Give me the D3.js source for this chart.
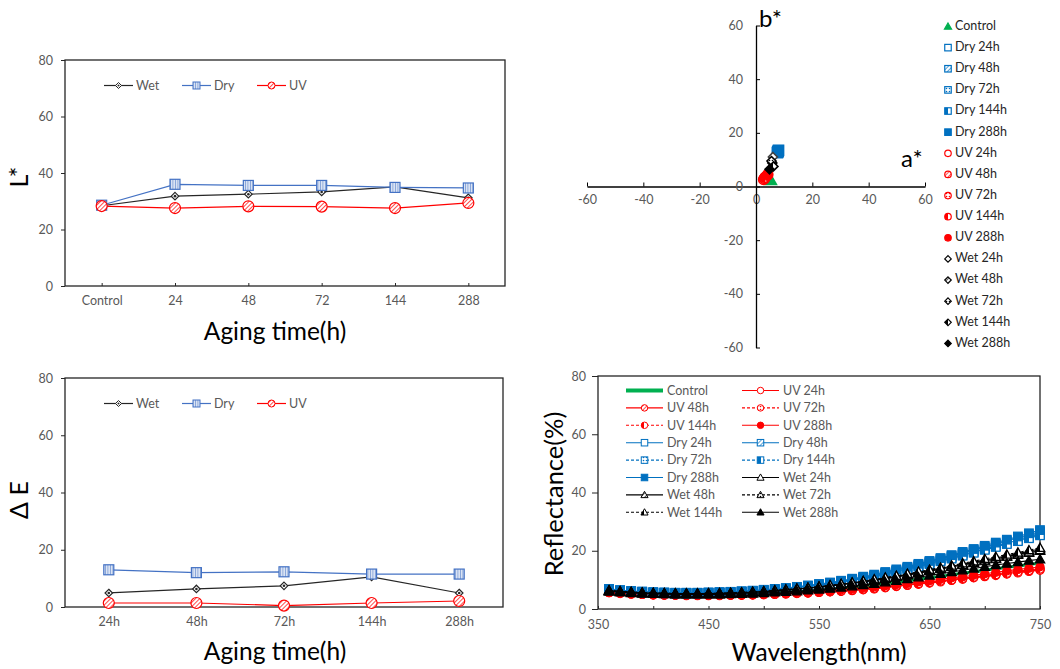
<!DOCTYPE html>
<html>
<head>
<meta charset="utf-8">
<script src="https://cdn.jsdelivr.net/npm/d3@7"></script>
<style>
body { margin: 0; background: #fff; }
svg text { font-family: Lato, "Liberation Sans", sans-serif; }
</style>
</head>
<body>
<div id="chart"></div>
<script>
// ---- L* vs aging time
const agingCats = ["Control", "24", "48", "72", "144", "288"];
const lWet = [28.4, 31.8, 32.5, 33.3, 35.1, 31.2];
const lDry = [28.6, 36.0, 35.6, 35.6, 34.9, 34.7];
const lUV = [28.3, 27.6, 28.2, 28.1, 27.6, 29.4];

// ---- delta E vs aging time
const deCats = ["24h", "48h", "72h", "144h", "288h"];
const deWet = [4.9, 6.3, 7.4, 10.5, 4.9];
const deDry = [13.0, 12.0, 12.3, 11.5, 11.5];
const deUV = [1.4, 1.4, 0.5, 1.4, 2.1];

// ---- a*/b* scatter
const labSamples = ["Control", "Dry 24h", "Dry 48h", "Dry 72h", "Dry 144h", "Dry 288h",
  "UV 24h", "UV 48h", "UV 72h", "UV 144h", "UV 288h",
  "Wet 24h", "Wet 48h", "Wet 72h", "Wet 144h", "Wet 288h"];
const labA = [5.3, 7.6, 7.9, 7.7, 8.0, 7.8, 2.7, 4.2, 3.0, 3.2, 4.0, 6.0, 5.8, 5.5, 6.2, 4.8];
const labB = [2.3, 12.6, 13.2, 12.9, 13.5, 13.0, 2.6, 4.5, 3.0, 3.4, 4.2, 11.0, 8.8, 9.5, 7.5, 6.4];
const abTicks = [-60, -40, -20, 0, 20, 40, 60];

// ---- reflectance spectra
const wavelengths = [360, 370, 380, 390, 400, 410, 420, 430, 440, 450, 460, 470, 480, 490, 500, 510, 520, 530, 540, 550,
  560, 570, 580, 590, 600, 610, 620, 630, 640, 650, 660, 670, 680, 690, 700, 710, 720, 730, 740, 750];
const reflControl = [5.9,5.6,5.4,5.2,5.1,5.0,4.9,4.9,4.9,4.9,4.9,5.0,5.1,5.2,5.3,5.5,5.7,5.9,6.1,6.4,6.7,7.0,7.4,7.8,8.2,8.7,9.2,9.7,10.2,10.7,11.2,11.8,12.3,12.8,13.3,13.8,14.3,14.8,15.3,15.8];
const reflUV24 = [5.6,5.4,5.2,5.0,4.9,4.8,4.7,4.7,4.7,4.7,4.7,4.7,4.8,4.9,5.0,5.1,5.2,5.4,5.5,5.7,5.9,6.1,6.4,6.7,7.0,7.4,7.8,8.2,8.6,9.0,9.5,9.9,10.4,10.8,11.3,11.7,12.1,12.6,13.0,13.5];
const reflUV48 = [5.7,5.5,5.3,5.1,5.0,4.9,4.8,4.8,4.8,4.8,4.8,4.8,4.9,5.0,5.1,5.2,5.3,5.5,5.7,5.9,6.1,6.3,6.6,6.9,7.2,7.6,8.0,8.4,8.8,9.3,9.7,10.2,10.6,11.1,11.6,12.0,12.5,13.0,13.4,13.9];
const reflUV72 = [5.6,5.3,5.1,5.0,4.8,4.7,4.7,4.6,4.6,4.6,4.6,4.7,4.7,4.8,4.9,5.0,5.2,5.3,5.5,5.7,5.9,6.1,6.3,6.6,6.9,7.3,7.7,8.1,8.5,8.9,9.3,9.8,10.2,10.7,11.1,11.5,12.0,12.4,12.9,13.3];
const reflUV144 = [5.7,5.4,5.2,5.1,4.9,4.8,4.8,4.7,4.7,4.7,4.7,4.8,4.8,4.9,5.0,5.1,5.3,5.4,5.6,5.8,6.0,6.2,6.5,6.8,7.1,7.5,7.9,8.3,8.7,9.1,9.6,10.0,10.5,10.9,11.4,11.8,12.3,12.7,13.2,13.7];
const reflUV288 = [5.8,5.6,5.4,5.2,5.1,5.0,4.9,4.9,4.9,4.9,4.9,4.9,5.0,5.1,5.2,5.3,5.5,5.7,5.9,6.1,6.3,6.6,6.9,7.2,7.6,8.0,8.4,8.8,9.3,9.7,10.2,10.7,11.1,11.6,12.1,12.6,13.1,13.6,14.0,14.5];
const reflDry24 = [6.8,6.4,6.1,5.9,5.7,5.6,5.5,5.5,5.5,5.6,5.7,5.8,6.0,6.2,6.5,6.8,7.1,7.5,7.9,8.4,8.9,9.5,10.1,10.8,11.5,12.4,13.3,14.2,15.2,16.2,17.2,18.2,19.2,20.3,21.3,22.4,23.4,24.5,25.5,26.6];
const reflDry48 = [6.6,6.2,5.9,5.7,5.6,5.5,5.4,5.4,5.4,5.5,5.6,5.7,5.9,6.1,6.3,6.6,6.9,7.3,7.7,8.2,8.7,9.2,9.8,10.5,11.2,12.0,12.9,13.8,14.7,15.7,16.6,17.6,18.6,19.6,20.6,21.6,22.6,23.6,24.6,25.7];
const reflDry72 = [6.7,6.3,6.0,5.8,5.6,5.5,5.5,5.4,5.5,5.5,5.6,5.8,5.9,6.2,6.4,6.7,7.0,7.4,7.8,8.3,8.8,9.4,10.0,10.7,11.4,12.2,13.1,14.0,15.0,16.0,17.0,18.0,19.0,20.0,21.0,22.1,23.1,24.2,25.2,26.2];
const reflDry144 = [6.5,6.2,5.9,5.7,5.5,5.4,5.4,5.3,5.3,5.4,5.5,5.6,5.8,6.0,6.3,6.5,6.8,7.2,7.6,8.0,8.5,9.1,9.7,10.3,11.0,11.8,12.7,13.6,14.5,15.4,16.4,17.3,18.3,19.3,20.3,21.3,22.3,23.3,24.3,25.3];
const reflDry288 = [6.9,6.5,6.2,6.0,5.8,5.7,5.6,5.6,5.6,5.7,5.8,5.9,6.1,6.3,6.6,6.9,7.2,7.6,8.1,8.6,9.1,9.7,10.4,11.1,11.8,12.7,13.6,14.5,15.5,16.5,17.5,18.5,19.6,20.6,21.7,22.8,23.8,24.9,26.0,27.1];
const reflWet24 = [6.3,6.0,5.8,5.6,5.5,5.4,5.3,5.3,5.3,5.3,5.4,5.5,5.6,5.8,6.0,6.3,6.6,6.9,7.2,7.6,8.0,8.5,9.0,9.5,10.0,10.6,11.2,11.9,12.6,13.3,14.0,14.7,15.4,16.1,16.8,17.5,18.3,19.0,19.8,20.6];
const reflWet48 = [6.2,5.9,5.7,5.5,5.4,5.3,5.2,5.2,5.2,5.2,5.3,5.4,5.5,5.7,5.9,6.2,6.4,6.7,7.1,7.4,7.8,8.3,8.8,9.3,9.8,10.4,11.0,11.6,12.3,13.0,13.7,14.4,15.1,15.8,16.5,17.2,17.9,18.6,19.3,20.0];
const reflWet72 = [6.3,6.0,5.7,5.6,5.4,5.3,5.3,5.2,5.2,5.3,5.3,5.4,5.6,5.7,5.9,6.2,6.5,6.8,7.1,7.5,7.9,8.4,8.9,9.4,9.9,10.5,11.1,11.7,12.4,13.1,13.8,14.5,15.2,15.9,16.6,17.3,18.0,18.8,19.5,20.2];
const reflWet144 = [6.4,6.1,5.8,5.6,5.5,5.4,5.3,5.3,5.3,5.4,5.4,5.5,5.7,5.9,6.1,6.4,6.7,7.0,7.3,7.7,8.2,8.6,9.1,9.6,10.2,10.8,11.4,12.1,12.8,13.5,14.2,14.9,15.7,16.4,17.2,17.9,18.7,19.4,20.2,21.0];
const reflWet288 = [6.0,5.7,5.5,5.3,5.2,5.1,5.0,5.0,5.0,5.0,5.0,5.1,5.2,5.3,5.5,5.7,5.9,6.1,6.4,6.7,7.0,7.4,7.8,8.2,8.7,9.2,9.7,10.3,10.9,11.5,12.1,12.7,13.3,13.9,14.5,15.1,15.6,16.1,16.6,17.1];

const reflSeries = [
  ["Control", reflControl], ["UV 24h", reflUV24], ["UV 48h", reflUV48], ["UV 72h", reflUV72],
  ["UV 144h", reflUV144], ["UV 288h", reflUV288], ["Dry 24h", reflDry24], ["Dry 48h", reflDry48],
  ["Dry 72h", reflDry72], ["Dry 144h", reflDry144], ["Dry 288h", reflDry288], ["Wet 24h", reflWet24],
  ["Wet 48h", reflWet48], ["Wet 72h", reflWet72], ["Wet 144h", reflWet144], ["Wet 288h", reflWet288]
];

const W = 1060, H = 669;
const tickGrey = "#595959";

const svg = d3.select("#chart").append("svg")
  .attr("width", W).attr("height", H);
const defs = svg.append("defs");

// fill patterns for the markers
function stripes(id, color, bg, angle, gap, w) {
  const p = defs.append("pattern").attr("id", id)
    .attr("patternUnits", "userSpaceOnUse")
    .attr("width", gap).attr("height", gap)
    .attr("patternTransform", `rotate(${angle})`);
  p.append("rect").attr("width", gap).attr("height", gap).attr("fill", bg);
  p.append("line").attr("x1", 0).attr("y1", 0).attr("x2", 0).attr("y2", gap)
    .attr("stroke", color).attr("stroke-width", w);
}
function dots(id, color, bg) {
  const p = defs.append("pattern").attr("id", id)
    .attr("patternUnits", "userSpaceOnUse").attr("width", 3).attr("height", 3);
  p.append("rect").attr("width", 3).attr("height", 3).attr("fill", bg);
  p.append("circle").attr("cx", 1.5).attr("cy", 1.5).attr("r", 0.8).attr("fill", color);
}
function half(id, color) {
  const g = defs.append("linearGradient").attr("id", id);
  g.append("stop").attr("offset", "50%").attr("stop-color", color);
  g.append("stop").attr("offset", "50%").attr("stop-color", "#fff");
}
stripes("redDiag", "#FF0000", "#fff", 45, 3, 1.4);
stripes("blueVert", "#4472C4", "#DAE3F3", 0, 2.5, 1);
const groupColor = {Control: "#00B050", UV: "#FF0000", Dry: "#0070C0", Wet: "#000000"};
Object.entries(groupColor).forEach(([k, c]) => {
  stripes("diag-" + k, c, "#fff", 45, 3, 1.3);
  dots("dots-" + k, c, "#fff");
  half("half-" + k, c);
});

function seriesStyle(name) {
  const parts = name.split(" ");
  const group = parts[0], t = parts[1];
  const color = groupColor[group];
  const fills = {
    "24h": "#fff",
    "48h": `url(#diag-${group})`,
    "72h": `url(#dots-${group})`,
    "144h": `url(#half-${group})`,
    "288h": color
  };
  return {
    group: group,
    color: color,
    fill: t ? fills[t] : color,
    dashed: t === "72h" || t === "144h"
  };
}

function marker(g, shape, x, y, s, stroke, fill, sw) {
  let el;
  if (shape === "circle") {
    el = g.append("circle").attr("cx", x).attr("cy", y).attr("r", s / 2);
  } else if (shape === "square") {
    el = g.append("rect").attr("x", x - s / 2).attr("y", y - s / 2).attr("width", s).attr("height", s);
  } else if (shape === "diamond") {
    el = g.append("path").attr("d", `M${x},${y - s / 2}L${x + s / 2},${y}L${x},${y + s / 2}L${x - s / 2},${y}Z`);
  } else {
    el = g.append("path").attr("d", `M${x},${y - s * 0.55}L${x + s * 0.55},${y + s * 0.42}L${x - s * 0.55},${y + s * 0.42}Z`);
  }
  el.attr("fill", fill).attr("stroke", stroke).attr("stroke-width", sw || 1);
  return el;
}

function styleAxis(g, size) {
  g.select(".domain").remove();
  g.selectAll(".tick line").attr("stroke", "#262626").attr("stroke-width", 1);
  g.selectAll(".tick text").attr("fill", tickGrey).style("font-size", size + "px");
}

function frame(box) {
  svg.append("rect")
    .attr("x", box.left).attr("y", box.top)
    .attr("width", box.right - box.left).attr("height", box.bottom - box.top)
    .attr("fill", "none").attr("stroke", "#262626").attr("stroke-width", 1.3);
}

// ---------- the two aging-time line charts ----------
function agingPanel(box, cats, wet, dry, uv, yTitle, titleY, xTitleY, legendY) {
  const x = d3.scalePoint().domain(cats).range([box.left, box.right]).padding(0.5);
  const y = d3.scaleLinear().domain([0, 80]).range([box.bottom, box.top]);

  const gy = svg.append("g").attr("transform", `translate(${box.left},0)`)
    .call(d3.axisLeft(y).tickValues([0, 20, 40, 60, 80]).tickSizeInner(4).tickSizeOuter(0).tickPadding(8));
  styleAxis(gy, 12.5);
  const gx = svg.append("g").attr("transform", `translate(0,${box.bottom})`)
    .call(d3.axisBottom(x).tickSizeInner(-3).tickSizeOuter(0).tickPadding(10));
  styleAxis(gx, 12.5);
  frame(box);

  const defsS = [
    {name: "Wet", vals: wet, color: "#262626", shape: "diamond", size: 7.5, fill: "#fff", lx: 104},
    {name: "Dry", vals: dry, color: "#4472C4", shape: "square", size: 10, fill: "url(#blueVert)", lx: 182},
    {name: "UV", vals: uv, color: "#FF0000", shape: "circle", size: 11, fill: "url(#redDiag)", lx: 257}
  ];
  const line = d3.line().x((d, i) => x(cats[i])).y(d => y(d));
  defsS.forEach(s => {
    const g = svg.append("g");
    g.append("path").attr("d", line(s.vals))
      .attr("fill", "none").attr("stroke", s.color).attr("stroke-width", 1.2);
    s.vals.forEach((v, i) => {
      marker(g, s.shape, x(cats[i]), y(v), s.size, s.color, s.fill, 1.2);
      if (s.shape === "diamond") g.append("circle").attr("cx", x(cats[i])).attr("cy", y(v)).attr("r", 1.3).attr("fill", s.color);
    });
    // legend
    const lg = svg.append("g");
    lg.append("line").attr("x1", s.lx).attr("x2", s.lx + 29).attr("y1", legendY).attr("y2", legendY)
      .attr("stroke", s.color).attr("stroke-width", 1.2);
    marker(lg, s.shape, s.lx + 14.5, legendY, s.shape === "diamond" ? 6 : 7, s.color, s.fill, 1);
    if (s.shape === "diamond") lg.append("circle").attr("cx", s.lx + 14.5).attr("cy", legendY).attr("r", 1).attr("fill", s.color);
    lg.append("text").attr("x", s.lx + 32).attr("y", legendY).attr("dy", "0.35em")
      .attr("fill", tickGrey).style("font-size", "12.5px").text(s.name);
  });

  svg.append("text")
    .attr("transform", `translate(19,${titleY}) rotate(-90)`)
    .attr("text-anchor", "middle").attr("dy", "0.35em")
    .attr("fill", "#000").style("font-size", "25px").text(yTitle);
  svg.append("text")
    .attr("x", 275).attr("y", xTitleY).attr("text-anchor", "middle").attr("dy", "0.35em")
    .attr("fill", "#000").style("font-size", "24.5px").text("Aging time(h)");
}

agingPanel({left: 65, right: 505, top: 60, bottom: 286}, agingCats, lWet, lDry, lUV, "L*", 177, 331, 85.5);
agingPanel({left: 65, right: 503, top: 378, bottom: 607}, deCats, deWet, deDry, deUV, "\u0394 E", 500, 651, 403.5);

// ---------- a* b* scatter ----------
(function () {
  const x = d3.scaleLinear().domain([-60, 60]).range([587, 925]);
  const y = d3.scaleLinear().domain([-60, 60]).range([347.5, 25.5]);

  const gx = svg.append("g").attr("transform", `translate(0,${y(0)})`)
    .call(d3.axisBottom(x).tickValues(abTicks).tickFormat(d => String(d))
      .tickSizeInner(-4).tickSizeOuter(0).tickPadding(9));
  gx.select(".domain").attr("stroke", "#000").attr("stroke-width", 1.3);
  gx.selectAll(".tick line").attr("stroke", "#000");
  gx.selectAll(".tick text").attr("fill", tickGrey).style("font-size", "12.5px");

  const gy = svg.append("g").attr("transform", `translate(${x(0)},0)`)
    .call(d3.axisLeft(y).tickValues(abTicks).tickFormat(d => String(d))
      .tickSizeInner(-4).tickSizeOuter(0).tickPadding(13));
  gy.select(".domain").attr("stroke", "#000").attr("stroke-width", 1.3);
  gy.selectAll(".tick line").attr("stroke", "#000");
  gy.selectAll(".tick text").attr("fill", tickGrey).style("font-size", "12.5px");

  svg.append("text").attr("x", 759).attr("y", 27).attr("fill", "#000")
    .style("font-size", "24px").text("b*");
  svg.append("text").attr("x", 901).attr("y", 167).attr("fill", "#000")
    .style("font-size", "24px").text("a*");

  const shapeOf = {Control: "triangle", Dry: "square", UV: "circle", Wet: "diamond"};
  const g = svg.append("g");
  labSamples.forEach((name, i) => {
    const st = seriesStyle(name);
    const stroke = st.group === "Wet" && st.fill === "#fff" ? "#404040" : st.color;
    marker(g, shapeOf[st.group], x(labA[i]), y(labB[i]), st.group === "Wet" ? 9 : 10, stroke, st.fill, 1.6);
  });

  // legend
  const lg = svg.append("g");
  labSamples.forEach((name, i) => {
    const st = seriesStyle(name);
    const ly = 25.5 + i * 21.13;
    marker(lg, shapeOf[st.group], 948, ly + 1, 6.5, st.color, st.fill, 1.2);
    lg.append("text").attr("x", 955).attr("y", ly).attr("dy", "0.35em")
      .attr("fill", "#262626").style("font-size", "12.5px").text(name);
  });
})();

// ---------- reflectance spectra ----------
(function () {
  const box = {left: 598, right: 1040, top: 376, bottom: 609};
  const x = d3.scaleLinear().domain([350, 750]).range([box.left, box.right]);
  const y = d3.scaleLinear().domain([0, 80]).range([box.bottom, box.top]);

  const gx = svg.append("g").attr("transform", `translate(0,${box.bottom})`)
    .call(d3.axisBottom(x).tickValues([350, 400, 450, 500, 550, 600, 650, 700, 750])
      .tickFormat(d => d % 100 === 50 ? d : "")
      .tickSizeInner(-3).tickSizeOuter(0).tickPadding(11));
  styleAxis(gx, 12.5);
  const gy = svg.append("g").attr("transform", `translate(${box.left},0)`)
    .call(d3.axisLeft(y).tickValues([0, 20, 40, 60, 80]).tickSizeInner(6).tickSizeOuter(0).tickPadding(6));
  styleAxis(gy, 12.5);
  frame(box);

  const shapeOf = {Control: "triangle", Dry: "square", UV: "circle", Wet: "triangle"};
  const line = d3.line().x((d, i) => x(wavelengths[i])).y(d => y(d));

  reflSeries.forEach(([name, vals]) => {
    const st = seriesStyle(name);
    const g = svg.append("g");
    if (name === "Control") {
      g.append("path").attr("d", line(vals)).attr("fill", "none")
        .attr("stroke", st.color).attr("stroke-width", 3);
      return;
    }
    g.append("path").attr("d", line(vals)).attr("fill", "none")
      .attr("stroke", st.color).attr("stroke-width", 1.1)
      .attr("stroke-dasharray", st.dashed ? "3,2" : null);
    vals.forEach((v, i) => {
      marker(g, shapeOf[st.group], x(wavelengths[i]), y(v), st.group === "UV" ? 8 : 8.5, st.color, st.fill, 1.3);
    });
  });

  // legend, two columns
  const lg = svg.append("g");
  reflSeries.forEach(([name], i) => {
    const st = seriesStyle(name);
    const col = i % 2, row = Math.floor(i / 2);
    const lx = col === 0 ? 626 : 742;
    const ly = 390.5 + row * 17.4;
    lg.append("line").attr("x1", lx).attr("x2", lx + 37).attr("y1", ly).attr("y2", ly)
      .attr("stroke", st.color).attr("stroke-width", name === "Control" ? 4 : 1.1)
      .attr("stroke-dasharray", st.dashed ? "3,2" : null);
    if (name !== "Control") marker(lg, shapeOf[st.group], lx + 18.5, ly, 6.5, st.color, st.fill, 1);
    lg.append("text").attr("x", lx + 41).attr("y", ly).attr("dy", "0.35em")
      .attr("fill", tickGrey).style("font-size", "12.5px").text(name);
  });

  svg.append("text")
    .attr("transform", `translate(554,494) rotate(-90)`)
    .attr("text-anchor", "middle").attr("dy", "0.35em")
    .attr("fill", "#000").style("font-size", "25.5px").text("Reflectance(%)");
  svg.append("text")
    .attr("x", 819).attr("y", 652).attr("text-anchor", "middle").attr("dy", "0.35em")
    .attr("fill", "#000").style("font-size", "24.5px").text("Wavelength(nm)");
})();
</script>
</body>
</html>
